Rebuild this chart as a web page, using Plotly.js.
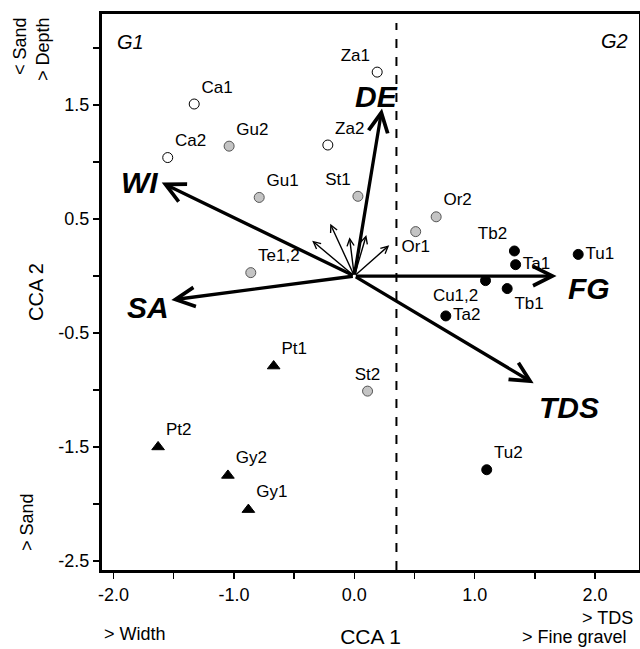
<!DOCTYPE html>
<html>
<head>
<meta charset="utf-8">
<script src="https://cdn.plot.ly/plotly-3.0.1.min.js"></script>
<style>html,body{margin:0;padding:0;background:#fff;}#chart{width:640px;height:649px;}</style>
</head>
<body>
<div id="chart"></div>
<script>
// ---- Site scores (CCA 1, CCA 2) ----
const openLabels = ['Ca1', 'Ca2', 'Za1', 'Za2'];
const openX = [-1.33, -1.55, 0.19, -0.22];
const openY = [1.51, 1.04, 1.79, 1.15];

const greyLabels = ['Gu2', 'Gu1', 'St1', 'Te1,2', 'Or2', 'Or1', 'St2'];
const greyX = [-1.04, -0.79, 0.03, -0.86, 0.68, 0.51, 0.11];
const greyY = [1.14, 0.69, 0.70, 0.03, 0.52, 0.39, -1.01];

const blackLabels = ['Tb2', 'Ta1', 'Tu1', 'Cu1,2', 'Tb1', 'Ta2', 'Tu2'];
const blackX = [1.33, 1.34, 1.86, 1.09, 1.27, 0.76, 1.10];
const blackY = [0.22, 0.10, 0.19, -0.04, -0.11, -0.35, -1.70];

const triLabels = ['Pt1', 'Pt2', 'Gy2', 'Gy1'];
const triX = [-0.67, -1.63, -1.05, -0.88];
const triY = [-0.79, -1.50, -1.75, -2.05];

// ---- Environmental vectors ----
const envNames = ['WI', 'DE', 'SA', 'FG', 'TDS'];
const envX = [-1.60, 0.23, -1.52, 1.68, 1.49];
const envY = [0.82, 1.47, -0.21, 0.00, -0.94];

const minorX = [-0.20, -0.35, -0.04, 0.10, 0.29];
const minorY = [0.46, 0.31, 0.34, 0.36, 0.27];

// group divider on CCA 1
const dividerX = 0.35;
const dividerTop = 2.22;

// ---- Axis ticks ----
const xTickVals = [-2.0, -1.5, -1.0, -0.5, 0.0, 0.5, 1.0, 1.5, 2.0];
const xTickText = ['-2.0', '', '-1.0', '', '0.0', '', '1.0', '', '2.0'];
const yTickVals = [-2.5, -2.0, -1.5, -1.0, -0.5, 0.0, 0.5, 1.0, 1.5, 2.0];
const yTickText = ['-2.5', '', '-1.5', '', '-0.5', '', '0.5', '', '1.5', ''];

// ---- styles (not data) ----
const FONT = 'Liberation Sans, Arial, sans-serif';
const openPos = ['top right', 'top right', 'top left', 'top right'];
const greyPos = ['top right', 'top right', 'top left', 'top right', 'top right', 'bottom center', 'top center'];
const blackPos = ['top left', 'middle right', 'middle right', 'bottom left', 'bottom right', 'middle right', 'top right'];
const triPos = ['top right', 'top right', 'top right', 'top right'];
const envShift = {
  WI: [-22, 0], DE: [-6, 12], SA: [-23, -8], FG: [32, -12], TDS: [35, -24]
};

const lblFont = {family: FONT, size: 17, color: '#000'};

const traces = [
  {x: openX, y: openY, text: openLabels, mode: 'markers+text', type: 'scatter',
   textposition: openPos, textfont: lblFont, cliponaxis: false,
   marker: {symbol: 'circle', size: 10, color: '#ffffff', line: {color: '#000', width: 1}}},
  {x: greyX, y: greyY, text: greyLabels, mode: 'markers+text', type: 'scatter',
   textposition: greyPos, textfont: lblFont, cliponaxis: false,
   marker: {symbol: 'circle', size: 10, color: '#c4c4c4', line: {color: '#555', width: 1}}},
  {x: blackX, y: blackY, text: blackLabels, mode: 'markers+text', type: 'scatter',
   textposition: blackPos, textfont: lblFont, cliponaxis: false,
   marker: {symbol: 'circle', size: 10, color: '#000', line: {color: '#000', width: 1}}},
  {x: triX, y: triY, text: triLabels, mode: 'markers+text', type: 'scatter',
   textposition: triPos, textfont: lblFont, cliponaxis: false,
   marker: {symbol: 'triangle-up', size: 11, color: '#000', line: {color: '#000', width: 1}}}
];

const annotations = [];
// major vectors
envNames.forEach((n, i) => {
  annotations.push({x: envX[i], y: envY[i], ax: 0, ay: 0, xref: 'x', yref: 'y', axref: 'x', ayref: 'y',
    text: '', showarrow: true, arrowhead: 5, arrowsize: 1.15, arrowwidth: 3.3, arrowcolor: '#000', standoff: 0});
  annotations.push({x: envX[i], y: envY[i], xref: 'x', yref: 'y', text: '<b><i>' + n + '</i></b>',
    showarrow: false, xanchor: 'center', yanchor: 'middle',
    xshift: envShift[n][0], yshift: envShift[n][1],
    font: {family: FONT, size: 30, color: '#000'}});
});
// minor vectors
minorX.forEach((mx, i) => {
  annotations.push({x: mx, y: minorY[i], ax: 0, ay: 0, xref: 'x', yref: 'y', axref: 'x', ayref: 'y',
    text: '', showarrow: true, arrowhead: 5, arrowsize: 1, arrowwidth: 1.4, arrowcolor: '#000', standoff: 0});
});
// group labels
annotations.push({xref: 'paper', yref: 'paper', x: 0.024, y: 0.949, text: '<i>G1</i>', showarrow: false,
  xanchor: 'left', yanchor: 'middle', font: {family: FONT, size: 20, color: '#000'}});
annotations.push({xref: 'paper', yref: 'paper', x: 0.983, y: 0.951, text: '<i>G2</i>', showarrow: false,
  xanchor: 'right', yanchor: 'middle', font: {family: FONT, size: 20, color: '#000'}});
// gradient hints outside the frame
const hintFont = {family: FONT, size: 18, color: '#000'};
annotations.push({xref: 'paper', yref: 'paper', x: -0.153, y: 0.942, text: '< Sand', textangle: -90,
  showarrow: false, xanchor: 'center', yanchor: 'middle', font: hintFont});
annotations.push({xref: 'paper', yref: 'paper', x: -0.110, y: 0.937, text: '> Depth', textangle: -90,
  showarrow: false, xanchor: 'center', yanchor: 'middle', font: hintFont});
annotations.push({xref: 'paper', yref: 'paper', x: -0.140, y: 0.086, text: '> Sand', textangle: -90,
  showarrow: false, xanchor: 'center', yanchor: 'middle', font: hintFont});
annotations.push({xref: 'paper', yref: 'paper', x: 0.0, y: -0.115, text: '> Width',
  showarrow: false, xanchor: 'left', yanchor: 'middle', font: hintFont});
annotations.push({xref: 'paper', yref: 'paper', x: 0.992, y: -0.086, text: '> TDS',
  showarrow: false, xanchor: 'right', yanchor: 'middle', font: hintFont});
annotations.push({xref: 'paper', yref: 'paper', x: 0.778, y: -0.121, text: '> Fine gravel',
  showarrow: false, xanchor: 'left', yanchor: 'middle', font: hintFont});

const layout = {
  width: 640, height: 649,
  margin: {l: 102, r: 1, t: 14, b: 79},
  paper_bgcolor: '#fff', plot_bgcolor: '#fff',
  showlegend: false,
  font: {family: FONT, size: 18, color: '#000'},
  xaxis: {range: [-2.096, 2.365], tickvals: xTickVals, ticktext: xTickText,
    ticks: 'outside', ticklen: 6, tickwidth: 1.5, tickcolor: '#000',
    showline: true, linewidth: 3, linecolor: '#000', mirror: true,
    showgrid: false, zeroline: false,
    tickfont: {family: FONT, size: 18},
    title: {text: 'CCA 1', font: {family: FONT, size: 21}, standoff: 26}},
  yaxis: {range: [-2.58, 2.30], tickvals: yTickVals, ticktext: yTickText,
    ticks: 'outside', ticklen: 6, tickwidth: 1.5, tickcolor: '#000',
    showline: true, linewidth: 3, linecolor: '#000', mirror: true,
    showgrid: false, zeroline: false,
    tickfont: {family: FONT, size: 18},
    title: {text: 'CCA 2', font: {family: FONT, size: 20}, standoff: 10}},
  shapes: [
    {type: 'line', xref: 'x', yref: 'y', x0: dividerX, x1: dividerX, y0: -2.58, y1: dividerTop,
     line: {color: '#000', width: 2, dash: 'dash'}}
  ],
  annotations: annotations
};

Plotly.newPlot('chart', traces, layout, {displayModeBar: false, staticPlot: true});
</script>
</body>
</html>
